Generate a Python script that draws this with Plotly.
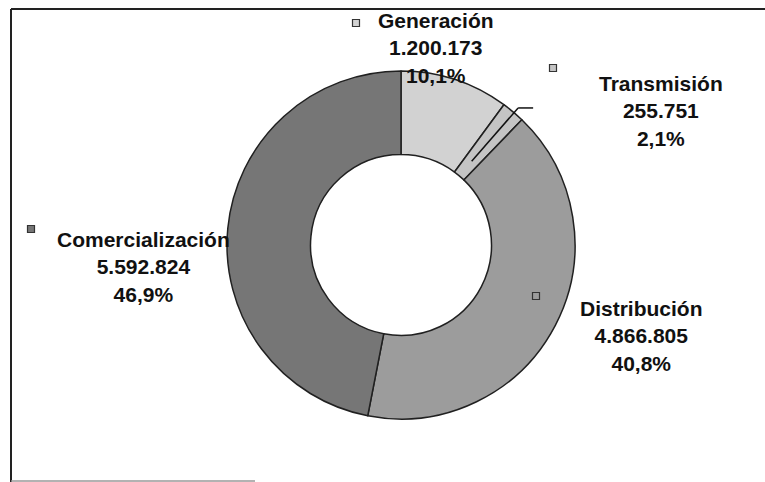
import math
import plotly.graph_objects as go

# ---- data ----
categories = ["Generación", "Transmisión", "Distribución", "Comercialización"]
values = [1200173, 255751, 4866805, 5592824]
value_labels = ["1.200.173", "255.751", "4.866.805", "5.592.824"]
pct_labels = ["10,1%", "2,1%", "40,8%", "46,9%"]

# ---- style ----
colors = ["#d2d2d2", "#c4c4c4", "#9c9c9c", "#767676"]
W, H = 765, 482
CX, CY, R = 401, 245, 174
HOLE = 0.52

# label placement (pixel centres of the middle line) and legend-key squares
label_pos = [(436, 48), (661, 111), (641, 336), (143, 267)]
key_pos = [(356, 23), (553, 68), (536, 296), (31, 229)]

def px(x):
    return x / W

def py(y):
    return 1 - y / H

fig = go.Figure()
fig.add_trace(go.Pie(
    labels=categories,
    values=values,
    hole=HOLE,
    sort=False,
    direction="clockwise",
    rotation=0,
    textinfo="none",
    hoverinfo="label+value+percent",
    marker=dict(colors=colors, line=dict(color="#202020", width=1.5)),
    domain=dict(x=[px(CX - R), px(CX + R)], y=[py(CY + R), py(CY - R)]),
    showlegend=False,
))

annotations = []
shapes = []
for i, cat in enumerate(categories):
    lx, ly = label_pos[i]
    annotations.append(dict(
        x=px(lx), y=py(ly), xref="paper", yref="paper",
        text=f"<b>{cat}<br>{value_labels[i]}<br>{pct_labels[i]}</b>",
        showarrow=False, xanchor="center", yanchor="middle",
        align="center",
        font=dict(family="Liberation Sans, Arial, sans-serif", size=21, color="#111111"),
    ))
    kx, ky = key_pos[i]
    shapes.append(dict(
        type="rect", xref="paper", yref="paper",
        x0=px(kx - 3.5), x1=px(kx + 3.5), y0=py(ky + 3.5), y1=py(ky - 3.5),
        fillcolor=colors[i], line=dict(color="#333333", width=1.2),
    ))

# leader line for the thin Transmisión slice, along its mid-angle
total = sum(values)
start = values[0] / total
mid = (start + values[1] / total / 2) * 2 * math.pi
r_in = R * 0.63
r_out = R * 1.0
x_in, y_in = CX + r_in * math.sin(mid), CY - r_in * math.cos(mid)
x_out, y_out = CX + r_out * math.sin(mid) + 5, CY - r_out * math.cos(mid) - 4
shapes.append(dict(type="line", xref="paper", yref="paper",
                   x0=px(x_in), y0=py(y_in), x1=px(x_out), y1=py(y_out),
                   line=dict(color="#111111", width=1.5)))
shapes.append(dict(type="line", xref="paper", yref="paper",
                   x0=px(x_out), y0=py(y_out), x1=px(x_out + 15), y1=py(y_out),
                   line=dict(color="#111111", width=1.5)))

# chart frame (scanned border)
shapes.append(dict(type="line", xref="paper", yref="paper",
                   x0=px(11), y0=py(9), x1=px(765), y1=py(9),
                   line=dict(color="#222222", width=2)))
shapes.append(dict(type="line", xref="paper", yref="paper",
                   x0=px(11), y0=py(9), x1=px(11), y1=py(482),
                   line=dict(color="#222222", width=2)))
shapes.append(dict(type="line", xref="paper", yref="paper",
                   x0=px(11), y0=py(481), x1=px(255), y1=py(481),
                   line=dict(color="#999999", width=1.5)))

fig.update_layout(
    width=W, height=H,
    margin=dict(l=0, r=0, t=0, b=0),
    paper_bgcolor="white",
    plot_bgcolor="white",
    annotations=annotations,
    shapes=shapes,
)

fig.write_html("out.html", config={"displayModeBar": False})

# remove the default browser body margin so the figure sits at the page origin
with open("out.html", "r", encoding="utf-8") as f:
    html = f.read()
html = html.replace("<head>", "<head><style>html,body{margin:0;padding:0;overflow:hidden;}</style>", 1)
with open("out.html", "w", encoding="utf-8") as f:
    f.write(html)
